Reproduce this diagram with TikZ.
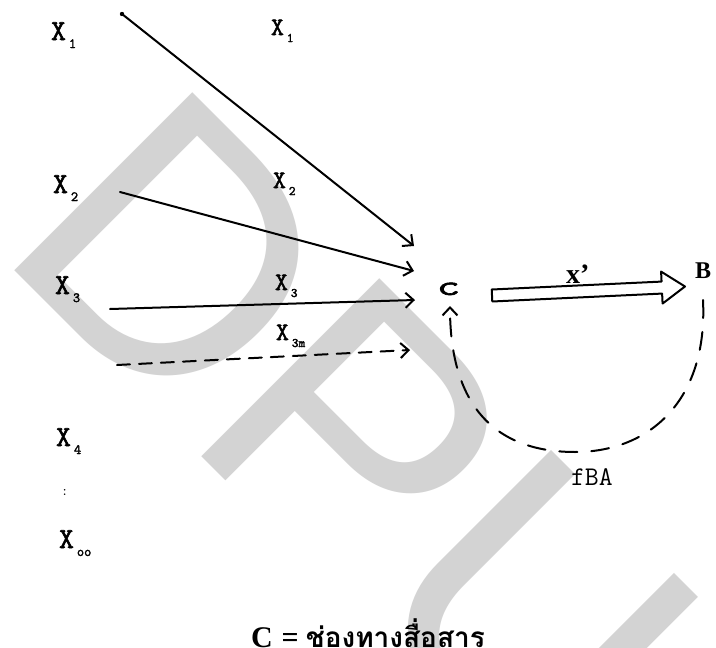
\documentclass[tikz,border=0pt]{standalone}
\usepackage{fontspec}
\setmainfont{Liberation Serif}
\newfontfamily\xtt[FakeBold=2]{Latin Modern Mono}
\newfontfamily\thaifont[Script=Thai]{Loma}
\newfontfamily\wmfont{Liberation Sans}
\usetikzlibrary{arrows.meta,calc}
\definecolor{wm}{RGB}{211,211,211}
\newcommand\Xs[4]{{\fontsize{#1}{#1}\selectfont X}\kern3pt\raisebox{-#4}{\fontsize{#3}{#3}\selectfont #2}}
\begin{document}
\begin{tikzpicture}[x=1pt,y=-1pt,
  lab/.style={anchor=base west, inner sep=0pt, outer sep=0pt, font=\xtt},
  conn/.style={line width=2pt, line cap=round},
  barb/.style={-{Straight Barb[length=8pt,width=15pt,line width=2pt]}},
  dashline/.style={conn, dash pattern=on 13pt off 9pt},
  fbline/.style={conn, dash pattern=on 18pt off 14pt},
  hollow/.style={line width=2pt, line join=round, fill=white}]
\useasboundingbox (0,0) rectangle (716,648);
\fill[white] (0,0) rectangle (716,648);
% watermark
\node[anchor=base west, rotate=-45, inner sep=0pt, outer sep=0pt, text=wm,
  font=\wmfont\fontsize{366}{366}\selectfont] (wmk) at (-6,249) {DPU};
% left labels
\node[lab] (xa) at (51,40) {\Xs{29}{1}{14}{8pt}};
\node[lab] (xb) at (53,193) {\Xs{29}{2}{14}{8pt}};
\node[lab] (xc) at (55,294) {\Xs{29}{3}{14}{8pt}};
\node[lab] (xd) at (56,446) {\Xs{29}{4}{14}{8pt}};
\node[lab, font=\ttfamily\fontsize{14}{14}\selectfont] (dots) at (61,495) {:};
\node[lab] (xe) at (59,548) {\Xs{29}{oo}{14}{8pt}};
% middle labels
\node[lab] (ma) at (271,35) {\Xs{25}{1}{13}{7pt}};
\node[lab] (mb) at (273,188) {\Xs{25}{2}{13}{7pt}};
\node[lab] (mc) at (275,290) {\Xs{25}{3}{13}{7pt}};
\node[lab] (md) at (276,340) {\Xs{25}{3m}{13}{7pt}};
% channel and receiver
\node[lab, font=\xtt\fontsize{28}{28}\selectfont] (C) at (437,295) {\scalebox{1.6}[1]{c}};
\node[lab, font=\bfseries\fontsize{24}{24}\selectfont] (B) at (695,278) {B};
\node[lab, font=\bfseries\fontsize{28}{28}\selectfont] (xp) at (566,283) {x’};
\node[lab, font=\ttfamily\fontsize{27}{27}\selectfont] (fba) at (571,485) {fBA};
% caption
\node[lab, font=\rmfamily\bfseries\fontsize{30}{30}\selectfont] (cap) at (251,647) {C\hspace{9pt}=\hspace{7pt}{\thaifont\fontsize{28}{28}\selectfont ช่องทางสื่อสาร}};
% connector end points
\coordinate (s1) at (122,14);  \coordinate (e1) at (414,246);
\coordinate (s2) at (120,192); \coordinate (e2) at (414,271);
\coordinate (s3) at (110,309); \coordinate (e3) at (415,300);
\coordinate (s4) at (117,365); \coordinate (e4) at (410,350);
\fill (s1) circle (2.2pt);
\draw[conn, barb] (s1) -- (e1);
\draw[conn, barb] (s2) -- (e2);
\draw[conn, barb] (s3) -- (e3);
\draw[dashline, barb] (s4) -- (e4);
% hollow arrow C -> B
\coordinate (aT) at (492,295.5);
\coordinate (aH) at (685,286.5);
\coordinate (hb) at ($(aT)!0.88!(aH)$);
\draw[hollow] ($(aT)!6pt!90:(aH)$) -- ($(hb)!6pt!-90:(aT)$) -- ($(hb)!16pt!-90:(aT)$)
  -- (aH) -- ($(hb)!16pt!90:(aT)$) -- ($(hb)!6pt!90:(aT)$) -- ($(aT)!6pt!-90:(aH)$) -- cycle;
% feedback B -> C
\coordinate (fbS) at (703,300);
\coordinate (fbM) at (575,452);
\coordinate (fbE) at (450,306);
\draw[fbline, barb] (fbS) .. controls (708,400) and (650,452) .. (fbM)
  .. controls (482,452) and (450,390) .. (fbE);
\end{tikzpicture}
\end{document}
